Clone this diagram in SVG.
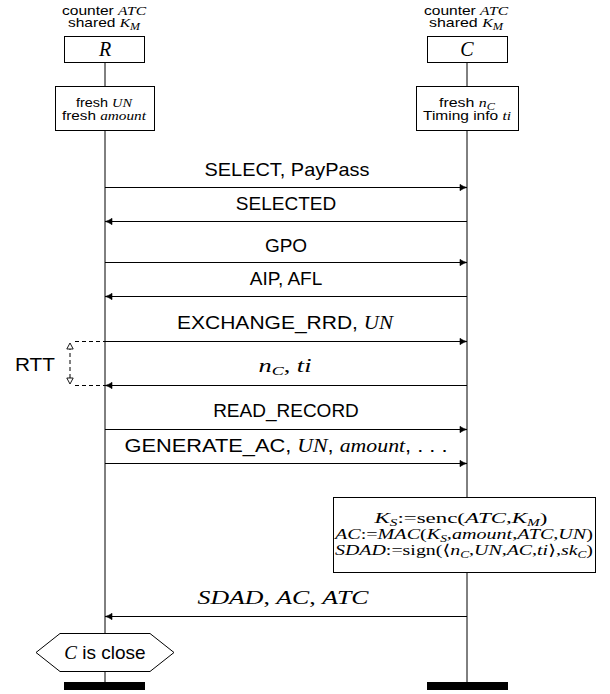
<svg xmlns="http://www.w3.org/2000/svg" width="610" height="694" viewBox="0 0 610 694">
<style>
.sans{font-family:"Liberation Sans","DejaVu Sans",sans-serif;fill:#000}
.m{font-family:"Liberation Serif","DejaVu Serif",serif;font-style:italic}
.rm{font-family:"Liberation Serif","DejaVu Serif",serif;font-style:normal}
.box{fill:#fff;stroke:#000;stroke-width:1}
.life{stroke:#000;stroke-width:1;fill:none}
.msg{stroke:#000;stroke-width:1;fill:none}
.dash{stroke:#000;stroke-width:1;stroke-dasharray:4,3;fill:none}
.small{font-size:13px}
.lbl{font-size:19px}
</style>
<defs>
<marker id="ah" markerUnits="userSpaceOnUse" markerWidth="12" markerHeight="10" refX="0" refY="0" viewBox="-8 -5 10 10" orient="auto">
<path d="M-7,-3.2 C-4.5,-1.2 -1.5,-0.3 0,0 C-1.5,0.3 -4.5,1.2 -7,3.2 Z" fill="#000" stroke="#000" stroke-width="0.6" stroke-linejoin="round"/>
</marker>
<marker id="tri" markerUnits="userSpaceOnUse" markerWidth="12" markerHeight="12" refX="0" refY="0" viewBox="-8 -6 10 12" orient="auto">
<path d="M-6,-3.2 L0,0 L-6,3.2 Z" fill="#fff" stroke="#000" stroke-width="0.9"/>
</marker>
</defs>

<g id="lifelines">
<path class="life" d="M105,63 V86 M105,131 V633 M105,672 V682"/>
<path class="life" d="M467,63 V86 M467,131 V497 M467,572 V682"/>
</g>

<g id="R-header" class="sans small" text-anchor="middle">
<text x="104" y="15" textLength="84" lengthAdjust="spacingAndGlyphs">counter <tspan class="m">ATC</tspan></text>
<text x="104" y="27" textLength="72" lengthAdjust="spacingAndGlyphs">shared <tspan class="m">K</tspan><tspan class="m" font-size="10" dy="3">M</tspan></text>
</g>
<g id="R">
<rect class="box" x="64.5" y="36.5" width="80" height="26"/>
<text x="105" y="56" text-anchor="middle" class="m" font-size="20">R</text>
</g>
<g id="R-fresh">
<rect class="box" x="55.5" y="86.5" width="99" height="44"/>
<text class="sans small" x="104" y="107" text-anchor="middle" textLength="56" lengthAdjust="spacingAndGlyphs">fresh <tspan class="m">UN</tspan></text>
<text class="sans small" x="104" y="120" text-anchor="middle" textLength="84" lengthAdjust="spacingAndGlyphs">fresh <tspan class="m">amount</tspan></text>
</g>

<g id="C-header" class="sans small" text-anchor="middle">
<text x="466" y="15" textLength="84" lengthAdjust="spacingAndGlyphs">counter <tspan class="m">ATC</tspan></text>
<text x="466" y="27" textLength="74" lengthAdjust="spacingAndGlyphs">shared <tspan class="m">K</tspan><tspan class="m" font-size="10" dy="3">M</tspan></text>
</g>
<g id="C">
<rect class="box" x="427.5" y="36.5" width="80" height="26"/>
<text x="467" y="56" text-anchor="middle" class="m" font-size="20">C</text>
</g>
<g id="C-fresh">
<rect class="box" x="416.5" y="86.5" width="102" height="44"/>
<text class="sans small" x="467" y="107" text-anchor="middle" textLength="56" lengthAdjust="spacingAndGlyphs">fresh <tspan class="m">n</tspan><tspan class="m" font-size="10" dy="3">C</tspan></text>
<text class="sans small" x="467" y="120" text-anchor="middle" textLength="88" lengthAdjust="spacingAndGlyphs">Timing info <tspan class="m">ti</tspan></text>
</g>

<g id="connectors">
<line class="msg" x1="105" y1="187.5" x2="467" y2="187.5" marker-end="url(#ah)"/>
<line class="msg" x1="467" y1="221.5" x2="105" y2="221.5" marker-end="url(#ah)"/>
<line class="msg" x1="105" y1="262.5" x2="467" y2="262.5" marker-end="url(#ah)"/>
<line class="msg" x1="467" y1="296.5" x2="105" y2="296.5" marker-end="url(#ah)"/>
<line class="msg" x1="105" y1="341.5" x2="467" y2="341.5" marker-end="url(#ah)"/>
<line class="msg" x1="467" y1="385.5" x2="105" y2="385.5" marker-end="url(#ah)"/>
<line class="msg" x1="105" y1="429.5" x2="467" y2="429.5" marker-end="url(#ah)"/>
<line class="msg" x1="105" y1="463.5" x2="467" y2="463.5" marker-end="url(#ah)"/>
<line class="msg" x1="467" y1="616.5" x2="105" y2="616.5" marker-end="url(#ah)"/>
</g>

<g id="labels" class="sans lbl" text-anchor="middle">
<text x="287" y="176" textLength="165" lengthAdjust="spacingAndGlyphs">SELECT, PayPass</text>
<text x="286" y="210">SELECTED</text>
<text x="286" y="252">GPO</text>
<text x="286" y="285">AIP, AFL</text>
<text x="285" y="329" textLength="216" lengthAdjust="spacingAndGlyphs">EXCHANGE_RRD, <tspan class="m">UN</tspan></text>
<text x="285" y="372" textLength="53" lengthAdjust="spacingAndGlyphs"><tspan class="m">n</tspan><tspan class="m" font-size="13" dy="3">C</tspan><tspan class="rm" dy="-3">, </tspan><tspan class="m">ti</tspan></text>
<text x="286" y="417">READ_RECORD</text>
<text x="286" y="452" textLength="323" lengthAdjust="spacingAndGlyphs">GENERATE_AC, <tspan class="m">UN</tspan>, <tspan class="m">amount</tspan>, . . .</text>
<text x="283" y="604" textLength="171" lengthAdjust="spacingAndGlyphs"><tspan class="m">SDAD</tspan><tspan class="rm">, </tspan><tspan class="m">AC</tspan><tspan class="rm">, </tspan><tspan class="m">ATC</tspan></text>
</g>

<g id="RTT">
<path class="dash" d="M75,341.5 H105 M75,385.5 H105"/>
<line class="dash" x1="70" y1="378" x2="70" y2="349"/>
<line x1="70" y1="350" x2="70" y2="343" stroke="none" marker-end="url(#tri)"/>
<line x1="70" y1="377" x2="70" y2="384" stroke="none" marker-end="url(#tri)"/>
<text class="sans lbl" x="15" y="371" textLength="40" lengthAdjust="spacingAndGlyphs">RTT</text>
</g>

<g id="computation">
<rect class="box" x="333.5" y="497.5" width="262" height="75"/>
<g class="rm" font-size="15" text-anchor="middle">
<text x="461" y="523" textLength="173" lengthAdjust="spacingAndGlyphs"><tspan class="m">K</tspan><tspan class="m" font-size="10" dy="3">S</tspan><tspan dy="-3">:=senc(</tspan><tspan class="m">ATC</tspan>,<tspan class="m">K</tspan><tspan class="m" font-size="10" dy="3">M</tspan><tspan dy="-3">)</tspan></text>
<text x="464" y="539" textLength="258" lengthAdjust="spacingAndGlyphs"><tspan class="m">AC</tspan>:=<tspan class="m">MAC</tspan>(<tspan class="m">K</tspan><tspan class="m" font-size="10" dy="3">S</tspan><tspan dy="-3">,</tspan><tspan class="m">amount</tspan>,<tspan class="m">ATC</tspan>,<tspan class="m">UN</tspan>)</text>
<text x="464" y="555" textLength="258" lengthAdjust="spacingAndGlyphs"><tspan class="m">SDAD</tspan>:=sign(⟨<tspan class="m">n</tspan><tspan class="m" font-size="10" dy="3">C</tspan><tspan dy="-3">,</tspan><tspan class="m">UN</tspan>,<tspan class="m">AC</tspan>,<tspan class="m">ti</tspan>⟩,<tspan class="m">sk</tspan><tspan class="m" font-size="10" dy="3">C</tspan><tspan dy="-3">)</tspan></text>
</g>
</g>

<g id="close">
<polygon class="box" points="36,652.5 60,633.5 150,633.5 174,652.5 150,671.5 60,671.5"/>
<text class="sans lbl" x="105" y="659" text-anchor="middle"><tspan class="m">C</tspan> is close</text>
</g>

<g id="ends">
<rect x="64" y="682" width="81" height="8" fill="#000"/>
<rect x="427" y="682" width="81" height="8" fill="#000"/>
</g>
</svg>
